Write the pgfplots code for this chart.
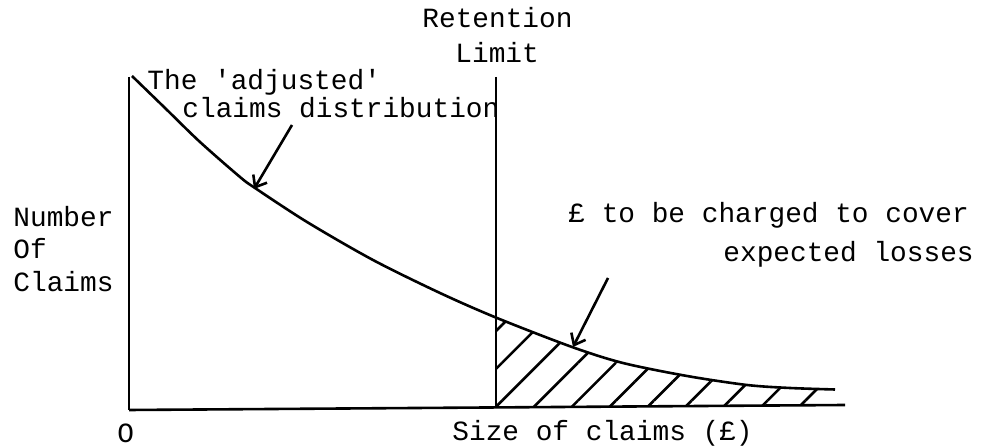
\documentclass[border=0pt]{standalone}
\usepackage{fontspec}
\setmainfont{Liberation Mono}
\usepackage{pgfplots}
\pgfplotsset{compat=1.18}
\usepgfplotslibrary{fillbetween}
\usetikzlibrary{patterns.meta,arrows.meta}
\tikzset{lbl/.style={font=\fontsize{13.9}{16}\selectfont, inner sep=0pt, anchor=base west}}
\begin{document}
\begin{tikzpicture}
\begin{axis}[
  at={(0,0)}, anchor=south west,
  width=494.5pt, height=224pt, scale only axis,
  xmin=0, xmax=989, ymin=0, ymax=448,
  axis line style={draw=none}, ticks=none, clip=false,
]
% axes and retention limit
\addplot[black, line width=1.3pt] coordinates {(129,371) (129,38)};
\addplot[name path=base, black, line width=1.3pt] coordinates {(129,38) (845,43)};
\addplot[black, line width=1.4pt] coordinates {(496,371) (496,40)};
% adjusted claims distribution
\addplot[name path=curve, black, line width=1.3pt, smooth] coordinates {
 (132,372) (165,340) (200,306) (240,271) (255,260) (307,226) (373,188)
 (440,155) (497,130) (572,101) (623,85) (687,72) (747,63) (790,60) (835,58.5)};
% hatched area
\addplot[draw=none, pattern={Lines[angle=45,distance=13.4pt,line width=1.3pt]}]
  fill between[of=curve and base, soft clip={domain=497:833}];
% arrows
\addplot[black, line width=1.3pt, -{Straight Barb[length=5pt,width=8pt]}] coordinates {(292,323) (254,259)};
\addplot[black, line width=1.3pt, -{Straight Barb[length=5pt,width=8pt]}] coordinates {(608,170) (573,101)};
% texts
\node[lbl] at (axis cs:422,420) {Retention};
\node[lbl] at (axis cs:455,385) {Limit};
\node[lbl] at (axis cs:147,358) {The \textquotesingle adjusted\textquotesingle};
\node[lbl] at (axis cs:182,330) {claims distribution};
\node[lbl] at (axis cs:13,221) {Number};
\node[lbl] at (axis cs:13,189) {Of};
\node[lbl] at (axis cs:13,156) {Claims};
\node[lbl] at (axis cs:568,225) {£ to be charged to cover};
\node[lbl] at (axis cs:723,186) {expected losses};
\node[lbl] at (axis cs:117,5) {O};
\node[lbl] at (axis cs:452,7) {Size of claims (£)};
\end{axis}
\pgfresetboundingbox
\path (current axis.south west) rectangle (current axis.north east);
\end{tikzpicture}
\end{document}
